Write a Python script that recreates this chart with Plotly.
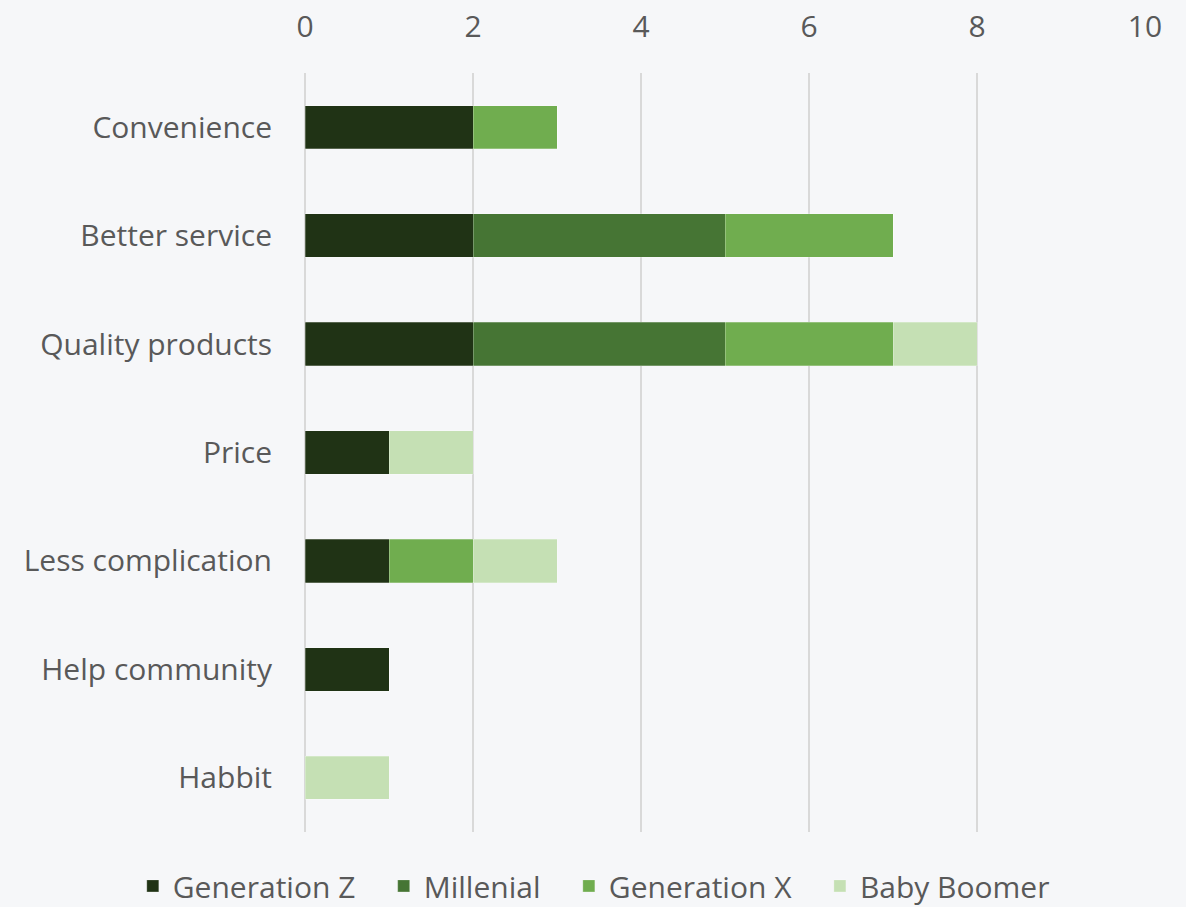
import plotly.graph_objects as go

# Reasons for choosing, counted by generation
reasons = ["Convenience", "Better service", "Quality products", "Price",
           "Less complication", "Help community", "Habbit"]
gen_z = [2, 2, 2, 1, 1, 1, 0]
millenial = [0, 3, 3, 0, 0, 0, 0]
gen_x = [1, 2, 2, 0, 1, 0, 0]
baby_boomer = [0, 0, 1, 1, 1, 0, 1]

x_ticks = [0, 2, 4, 6, 8, 10]

series = [
    ("Generation Z", gen_z, "#203315"),
    ("Millenial", millenial, "#467534"),
    ("Generation X", gen_x, "#70ad4f"),
    ("Baby Boomer", baby_boomer, "#c5e0b4"),
]

font_family = "Open Sans, Noto Sans, sans-serif"
text_color = "#595959"
font_size = 30
pad = "\u00a0" * 3  # extra room between legend entries

fig = go.Figure()
for name, values, color in series:
    fig.add_trace(go.Bar(
        name=name + pad,
        y=reasons,
        x=values,
        orientation="h",
        width=0.4,
        marker=dict(color=color, line=dict(color="rgba(255,255,255,0.5)", width=0.5)),
    ))

fig.update_layout(
    barmode="stack",
    width=1186,
    height=907,
    paper_bgcolor="#f6f7f9",
    plot_bgcolor="#f6f7f9",
    margin=dict(l=305, r=41, t=73, b=75, autoexpand=False),
    font=dict(family=font_family, size=font_size, color=text_color),
    showlegend=True,
    legend=dict(
        orientation="h",
        x=-0.205, xanchor="left",
        y=-0.071, yanchor="middle",
        font=dict(size=font_size, color=text_color),
        traceorder="normal",
        itemwidth=30,
        bgcolor="rgba(0,0,0,0)",
    ),
    xaxis=dict(
        side="top",
        range=[0, 10],
        tickvals=x_ticks,
        showgrid=True,
        gridcolor="#d9d9d9",
        gridwidth=1.5,
        zeroline=True,
        zerolinecolor="#d9d9d9",
        zerolinewidth=1.5,
        showline=False,
        ticks="",
        ticklabelstandoff=29,
        tickfont=dict(size=font_size, color=text_color),
        fixedrange=True,
    ),
    yaxis=dict(
        categoryorder="array",
        categoryarray=reasons,
        autorange="reversed",
        showgrid=False,
        zeroline=False,
        showline=False,
        ticks="",
        ticklabelstandoff=32,
        tickfont=dict(size=font_size, color=text_color),
    ),
)

fig.write_html("out.html")
